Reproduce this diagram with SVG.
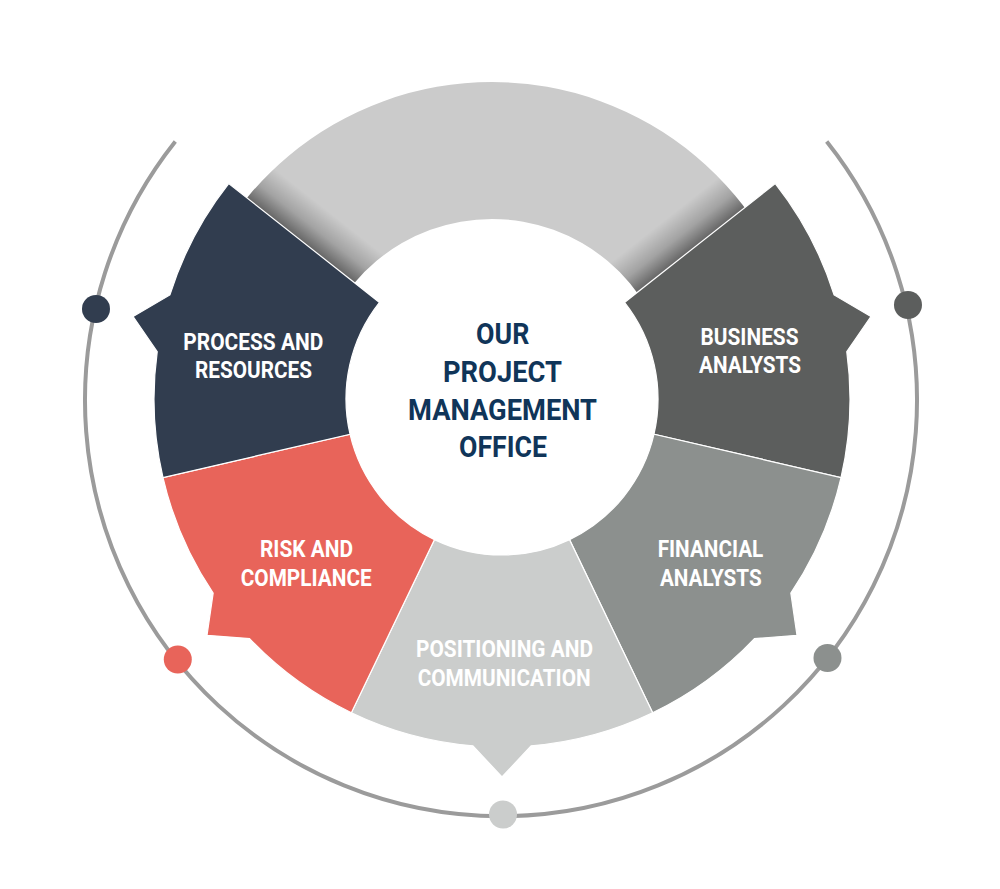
<svg xmlns="http://www.w3.org/2000/svg" width="1000" height="889" viewBox="0 0 1000 889">
<style>
.lbl{font-family:Roboto,"Liberation Sans",sans-serif;font-weight:700;font-size:23px;fill:#ffffff;text-anchor:middle}
.ctr{font-family:Roboto,"Liberation Sans",sans-serif;font-weight:700;font-size:30px;fill:#103559;text-anchor:middle}
.seg{stroke:#ffffff;stroke-width:1.2;stroke-linejoin:miter}
</style>
<defs>
<linearGradient id="shL" gradientUnits="userSpaceOnUse" x1="305.67" y1="244.23" x2="330.43" y2="212.82">
<stop offset="0" stop-color="#000" stop-opacity="0.5"/>
<stop offset="0.45" stop-color="#000" stop-opacity="0.2"/>
<stop offset="1" stop-color="#000" stop-opacity="0"/>
</linearGradient>
<linearGradient id="shR" gradientUnits="userSpaceOnUse" x1="698.33" y1="244.23" x2="673.57" y2="212.82">
<stop offset="0" stop-color="#000" stop-opacity="0.5"/>
<stop offset="0.45" stop-color="#000" stop-opacity="0.2"/>
<stop offset="1" stop-color="#000" stop-opacity="0"/>
</linearGradient>
</defs>
<rect width="1000" height="889" fill="#ffffff"/>

<g id="band">
<path d="M 179.82 343.95 A 317 317 0 0 1 804.18 343.95 L 669.27 367.74 A 180 180 0 0 0 314.73 367.74 Z" fill="#cbcbcb"/>
<path d="M 179.82 343.95 A 317 317 0 0 1 804.18 343.95 L 669.27 367.74 A 180 180 0 0 0 314.73 367.74 Z" fill="url(#shL)"/>
<path d="M 179.82 343.95 A 317 317 0 0 1 804.18 343.95 L 669.27 367.74 A 180 180 0 0 0 314.73 367.74 Z" fill="url(#shR)"/>
</g>

<g id="connectors">
<path d="M 826.69 141.46 A 416 416 0 1 1 175.31 141.46" fill="none" stroke="#9b9b9b" stroke-width="4"/>
</g>

<g id="node-business">
<path class="seg" d="M 775.29 183.56 A 348 348 0 0 1 834.08 294.93 L 870.90 316.54 L 846.78 351.77 A 348 348 0 0 1 841.01 477.58 L 653.97 434.22 A 156 156 0 0 0 624.51 302.42 Z" fill="#5c5e5d"/>
<circle cx="907.98" cy="305" r="14" fill="#5c5e5d"/>
<text class="lbl" x="749.5" y="345" textLength="98" lengthAdjust="spacingAndGlyphs">BUSINESS</text>
<text class="lbl" x="750" y="373" textLength="102" lengthAdjust="spacingAndGlyphs">ANALYSTS</text>
</g>

<g id="node-financial">
<path class="seg" d="M 841.01 477.58 A 348 348 0 0 1 790.84 593.10 L 797.00 635.34 L 754.43 638.55 A 348 348 0 0 1 652.64 712.71 L 569.53 539.63 A 156 156 0 0 0 653.97 434.22 Z" fill="#8c908e"/>
<circle cx="827.5" cy="658" r="14" fill="#8c908e"/>
<text class="lbl" x="710.5" y="557" textLength="105.6" lengthAdjust="spacingAndGlyphs">FINANCIAL</text>
<text class="lbl" x="710.8" y="586" textLength="101.7" lengthAdjust="spacingAndGlyphs">ANALYSTS</text>
</g>

<g id="node-positioning">
<path class="seg" d="M 652.64 712.71 A 348 348 0 0 1 531.12 745.78 L 502 777 L 472.88 745.78 A 348 348 0 0 1 351.36 712.71 L 434.47 539.63 A 156 156 0 0 0 569.53 539.63 Z" fill="#cbcdcc"/>
<circle cx="503" cy="814.5" r="14" fill="#cbcdcc"/>
<text class="lbl" x="504.5" y="657" textLength="177" lengthAdjust="spacingAndGlyphs">POSITIONING AND</text>
<text class="lbl" x="504.2" y="686" textLength="173" lengthAdjust="spacingAndGlyphs">COMMUNICATION</text>
</g>

<g id="node-risk">
<path class="seg" d="M 351.36 712.71 A 348 348 0 0 1 249.57 638.55 L 207.00 635.34 L 213.16 593.10 A 348 348 0 0 1 162.99 477.58 L 350.03 434.22 A 156 156 0 0 0 434.47 539.63 Z" fill="#e8645a"/>
<circle cx="177.8" cy="659.5" r="14" fill="#e8645a"/>
<text class="lbl" x="306.5" y="557" textLength="93" lengthAdjust="spacingAndGlyphs">RISK AND</text>
<text class="lbl" x="306.2" y="586" textLength="131" lengthAdjust="spacingAndGlyphs">COMPLIANCE</text>
</g>

<g id="node-process">
<path class="seg" d="M 162.99 477.58 A 348 348 0 0 1 157.22 351.77 L 133.10 316.54 L 169.92 294.93 A 348 348 0 0 1 228.71 183.56 L 379.49 302.42 A 156 156 0 0 0 350.03 434.22 Z" fill="#313d4f"/>
<circle cx="96" cy="309" r="14" fill="#313d4f"/>
<text class="lbl" x="253.3" y="350" textLength="140" lengthAdjust="spacingAndGlyphs">PROCESS AND</text>
<text class="lbl" x="253.5" y="378" textLength="117" lengthAdjust="spacingAndGlyphs">RESOURCES</text>
</g>

<g id="node-center">
<text class="ctr" x="502.7" y="344.3" textLength="53.3" lengthAdjust="spacingAndGlyphs">OUR</text>
<text class="ctr" x="502.5" y="381.7" textLength="119" lengthAdjust="spacingAndGlyphs">PROJECT</text>
<text class="ctr" x="502.5" y="420" textLength="189" lengthAdjust="spacingAndGlyphs">MANAGEMENT</text>
<text class="ctr" x="503" y="457" textLength="88" lengthAdjust="spacingAndGlyphs">OFFICE</text>
</g>
</svg>
